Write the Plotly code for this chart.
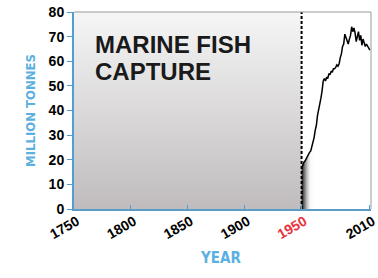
import plotly.graph_objects as go

# ---- data ----
years = list(range(1950, 2011))
capture = [16.5, 18, 19, 19.5, 20.5, 21.5, 22.5, 23, 23.5, 25,
           27, 29, 32, 34, 38, 40, 43, 45, 48, 52,
           53, 52, 53.5, 53, 55, 54.5, 56, 55.5, 57, 57,
           57.5, 58.5, 58, 59, 61.5, 63, 66, 67, 71, 69.5,
           67.5, 67, 69, 70.5, 74, 72, 73.5, 71.5, 68, 70,
           72, 68.5, 70.5, 66.5, 69, 67.5, 66, 67, 66, 65.5, 64.5]
x_ticks = [1750, 1800, 1850, 1900, 1950, 2010]
x_tick_labels = ["<b>1750</b>", "<b>1800</b>", "<b>1850</b>", "<b>1900</b>",
                 '<b><span style="color:#e8323c">1950</span></b>', "<b>2010</b>"]
y_ticks = [0, 10, 20, 30, 40, 50, 60, 70, 80]
y_tick_labels = ["<b>%d</b>" % v for v in y_ticks]
start_year = 1750
mark_year = 1950
end_year = 2011
y_max = 80
title_lines = ["MARINE FISH", "CAPTURE"]
x_title = "YEAR"
y_title = "MILLION TONNES"

BLUE = "#4f9fd6"
LBLUE = "#5cb0e0"
TICKFONT = "Liberation Sans, Arial, sans-serif"
TITLEFONT = "DejaVu Sans Condensed, Liberation Sans, sans-serif"

fig = go.Figure()

# pre-1950 shaded background
fig.add_trace(go.Scatter(
    x=[start_year, mark_year], y=[y_max, y_max], mode="none",
    fill="tozeroy",
    fillgradient=dict(type="vertical", start=0, stop=y_max,
                      colorscale=[[0, "#c0bcbd"], [1, "#f6f6f6"]]),
    hoverinfo="skip", showlegend=False))

# shadow under the early curve, right of the 1950 line
n_sh = 13
fig.add_trace(go.Scatter(
    x=[mark_year] + years[:n_sh] + [years[n_sh - 1]],
    y=[0] + capture[:n_sh] + [0],
    mode="none", fill="toself",
    fillgradient=dict(type="horizontal", start=mark_year, stop=years[n_sh - 1],
                      colorscale=[[0, "rgba(0,0,0,0.95)"],
                                  [0.3, "rgba(70,70,70,0.55)"],
                                  [0.65, "rgba(200,200,200,0.15)"],
                                  [1, "rgba(255,255,255,0)"]]),
    hoverinfo="skip", showlegend=False))

# dashed 1950 line
fig.add_trace(go.Scatter(
    x=[mark_year, mark_year], y=[0, y_max], mode="lines",
    line=dict(color="black", width=2, dash="3px,2px"),
    hoverinfo="skip", showlegend=False))

# capture curve
fig.add_trace(go.Scatter(
    x=years, y=capture, mode="lines",
    line=dict(color="black", width=1.5),
    showlegend=False))

title_font = dict(family="Liberation Sans, Arial, sans-serif", size=24,
                  color="#1a1a1a")
fig.update_layout(
    width=378, height=278,
    margin=dict(l=74, r=7, t=12, b=69, autoexpand=False),
    paper_bgcolor="white", plot_bgcolor="white",
    font=dict(family=TICKFONT, color="black"),
    shapes=[
        dict(type="line", xref="paper", yref="paper", x0=0, x1=1, y0=1, y1=1,
             line=dict(color="#9a9a9a", width=1)),
        dict(type="line", xref="paper", yref="paper", x0=1, x1=1, y0=0, y1=1,
             line=dict(color="#9a9a9a", width=1)),
    ],
    annotations=[
        dict(text="<b>" + title_lines[0] + "</b>", xref="paper", yref="paper",
             x=0.064, y=(209 - 43.5) / 197, xanchor="left", yanchor="middle",
             height=22, showarrow=False, font=title_font),
        dict(text="<b>" + title_lines[1] + "</b>", xref="paper", yref="paper",
             x=0.064, y=(209 - 71) / 197, xanchor="left", yanchor="middle",
             height=22, showarrow=False, font=title_font),
        dict(text="<b>" + x_title + "</b>", xref="paper", yref="paper",
             x=(220 - 74) / 297, y=-(258 - 209) / 197, xanchor="center",
             yanchor="middle", showarrow=False,
             font=dict(family=TITLEFONT, size=15, color=LBLUE)),
        dict(text="<b>" + y_title + "</b>", xref="paper", yref="paper",
             x=(30 - 74) / 297, y=(209 - 111) / 197, xanchor="center",
             yanchor="middle", textangle=-90, showarrow=False,
             font=dict(family=TITLEFONT, size=13, color=LBLUE)),
    ],
)

fig.update_xaxes(
    automargin=False,
    range=[start_year, end_year], tickvals=x_ticks, ticktext=x_tick_labels,
    tickangle=-30, ticks="inside", ticklen=4, tickcolor=BLUE, tickwidth=1,
    ticklabelshift=3, ticklabelstandoff=-3, ticklabeloverflow="allow",
    showline=True, linecolor="#5a9cc4", linewidth=2, showgrid=False,
    zeroline=False,
    tickfont=dict(family=TICKFONT, size=14, color="black"))
fig.update_yaxes(
    automargin=False,
    range=[0, y_max], tickvals=y_ticks, ticktext=y_tick_labels,
    ticks="outside", ticklen=5,
    tickcolor=BLUE, tickwidth=1, showline=True, linecolor=BLUE, linewidth=2,
    showgrid=False, zeroline=False,
    tickfont=dict(family=TICKFONT, size=14, color="black"))

fig.write_html("out.html",
               config={"displayModeBar": False},
               post_script="document.body.style.margin='0';")
